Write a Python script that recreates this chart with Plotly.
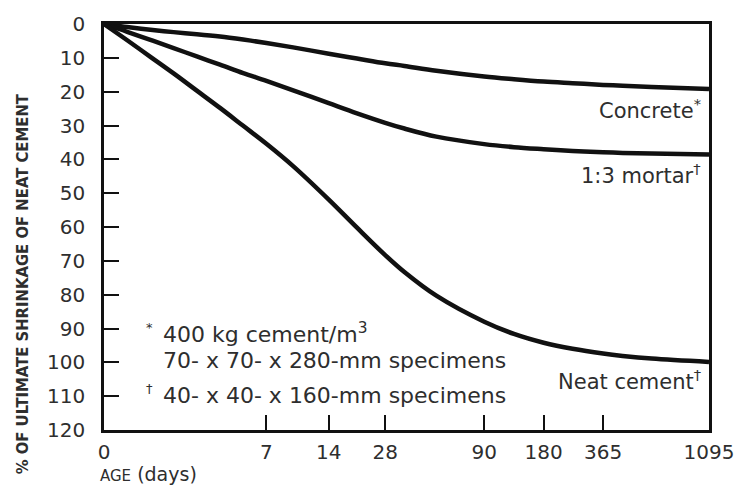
import numpy as np
import plotly.graph_objects as go

# Age axis (days) and its tick labels
AGE_TICKS = [0, 7, 14, 28, 90, 180, 365, 1095]
AGE_TICK_TEXT = ["0", "7", "14", "28", "90", "180", "365", "1095"]

# Shrinkage as % of ultimate shrinkage of neat cement
AGES = [0, 1, 2, 3, 4, 5, 6, 7, 10, 14, 21, 28, 40, 60, 90, 135, 180, 270, 365, 500, 700, 1095]
NEAT_CEMENT = [0, 4.8, 9.7, 14.6, 19.7, 24.8, 30.1, 35.4, 42.0, 51.9, 60.2, 68.3, 73.3, 80.3,
               88, 91.6, 94.2, 96, 97.4, 98.1, 98.9, 99.9]
MORTAR = [0, 2.3, 4.7, 7.1, 9.6, 12, 14.5, 16.8, 19.6, 23.4, 26.4, 29.2, 30.9, 33.3,
          35.5, 36.4, 37.0, 37.5, 37.9, 38.1, 38.3, 38.6]
CONCRETE = [0, 0.9, 1.7, 2.4, 3.0, 3.7, 4.6, 5.6, 6.9, 8.8, 10.2, 11.6, 12.4, 13.8,
            15.5, 16.3, 17.0, 17.5, 18.0, 18.25, 18.6, 19.2]

Y_TICKS = list(range(0, 121, 10))

# Piecewise age scale: where each tick age sits along the horizontal axis
SCALE_POS = [0, 164, 227, 284, 384, 444, 504, 611]


def age_to_x(ages):
    return np.interp(ages, AGE_TICKS, SCALE_POS)


INK = "#111111"
TEXT = "#2e2e2e"
FONT = "DejaVu Sans"

fig = go.Figure()
for vals in (CONCRETE, MORTAR, NEAT_CEMENT):
    fig.add_trace(go.Scatter(
        x=age_to_x(AGES), y=vals, mode="lines",
        line=dict(color=INK, width=4.5, shape="spline", smoothing=1.0),
        showlegend=False, hoverinfo="skip",
    ))

fig.update_xaxes(
    range=[SCALE_POS[0], SCALE_POS[-1]],
    tickvals=age_to_x(AGE_TICKS), ticktext=AGE_TICK_TEXT,
    ticks="inside", ticklen=15, tickwidth=2, tickcolor=INK,
    showline=True, linecolor=INK, linewidth=2.5, mirror=True,
    showgrid=False, zeroline=False,
    tickfont=dict(family=FONT, size=20, color=TEXT),
    ticklabelstandoff=2,
)
fig.update_yaxes(
    range=[120, 0], tickvals=Y_TICKS,
    ticks="inside", ticklen=15, tickwidth=2, tickcolor=INK,
    showline=True, linecolor=INK, linewidth=2.5, mirror=True,
    showgrid=False, zeroline=False,
    tickfont=dict(family=FONT, size=20, color=TEXT),
    ticklabelstandoff=12,
)

# Curve labels
for text, yv in (("Concrete<sup>*</sup>", 25),
                 ("1:3 mortar<sup>†</sup>", 44.3),
                 ("Neat cement<sup>†</sup>", 105.3)):
    fig.add_annotation(x=SCALE_POS[-1] - 6, y=yv, xref="x", yref="y",
                       text=text, showarrow=False, xanchor="right", yanchor="middle",
                       font=dict(family=FONT, size=21, color=TEXT))

# Footnotes
notes = [
    ("400 kg cement/m<sup>3</sup>", 91.2),
    ("70- x 70- x 280-mm specimens", 99.4),
    ("40- x 40- x 160-mm specimens", 109.7),
]
for text, yv in notes:
    fig.add_annotation(x=58, y=yv, xref="x", yref="y", text=text, showarrow=False,
                       xanchor="left", yanchor="middle",
                       font=dict(family=FONT, size=22, color=TEXT))
for mark, yv in (("*", 89.6), ("†", 107.6)):
    fig.add_annotation(x=46, y=yv, xref="x", yref="y", text=mark, showarrow=False,
                       xanchor="center", yanchor="middle",
                       font=dict(family=FONT, size=13, color=TEXT))

# Axis titles (paper coordinates are relative to the plotting area)
PLOT_L, PLOT_W, PLOT_T, PLOT_H = 104, 611, 22.5, 407.5
PLOT_B = PLOT_T + PLOT_H
fig.add_annotation(x=(22 - PLOT_L) / PLOT_W, y=(PLOT_B - 283) / PLOT_H,
                   xref="paper", yref="paper",
                   text="<b>% OF ULTIMATE SHRINKAGE OF NEAT CEMENT</b>",
                   textangle=-90, showarrow=False, xanchor="center", yanchor="middle",
                   font=dict(family="DejaVu Sans Condensed, Liberation Sans Narrow, Arial Narrow",
                             size=16.5, color=TEXT))
fig.add_annotation(x=(98 - PLOT_L) / PLOT_W, y=(PLOT_B - 474) / PLOT_H,
                   xref="paper", yref="paper",
                   text="<span style='font-size:15px'>AGE</span> (days)",
                   showarrow=False, xanchor="left", yanchor="middle",
                   font=dict(family=FONT, size=19, color=TEXT))

fig.update_layout(
    width=746, height=486,
    margin=dict(l=PLOT_L, r=746 - PLOT_L - PLOT_W, t=PLOT_T, b=486 - PLOT_B),
    paper_bgcolor="white", plot_bgcolor="white",
)

fig.write_html("out.html")
